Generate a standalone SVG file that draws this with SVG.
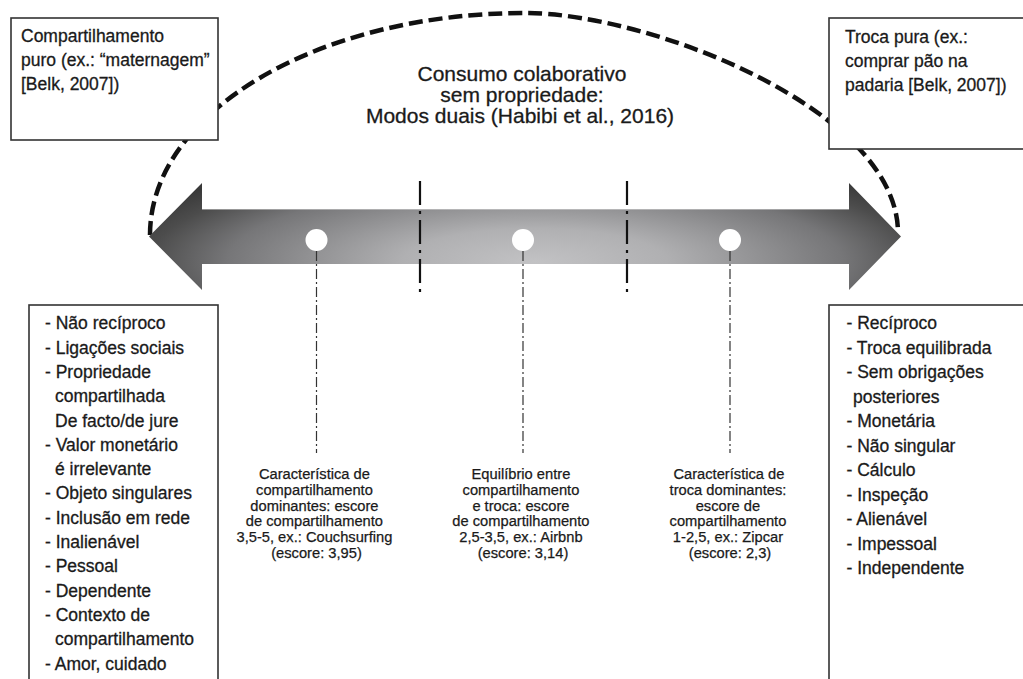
<svg xmlns="http://www.w3.org/2000/svg" width="1023" height="679" viewBox="0 0 1023 679">
<defs>
<radialGradient id="arrowGrad" gradientUnits="userSpaceOnUse" cx="0" cy="0" r="1" gradientTransform="translate(535,262) scale(440,112)">
<stop offset="0" stop-color="#c2c2c4"/>
<stop offset="0.3" stop-color="#b0b0b2"/>
<stop offset="0.5" stop-color="#939395"/>
<stop offset="0.7" stop-color="#767678"/>
<stop offset="0.88" stop-color="#4c4c4c"/>
<stop offset="1" stop-color="#393939"/>
</radialGradient>
<style>
.box{fill:#ffffff;stroke:#333333;stroke-width:1.6}
.t{font-family:"Liberation Sans",Arial,Helvetica,sans-serif;fill:#1a1a1a;stroke:#1a1a1a;stroke-width:0.3}
.big{font-size:17.5px}
.title{font-size:21px}
.small{font-size:14.7px;stroke-width:0.25}
.arc{fill:none;stroke:#111111;stroke-width:4.5;stroke-dasharray:14 6}
.div{stroke:#111111;stroke-width:2.2;stroke-dasharray:24 6 3 6;fill:none}
.lead{stroke:#333333;stroke-width:1.2;stroke-dasharray:10 3 2 3;fill:none}
</style>
</defs>
<rect width="1023" height="679" fill="#ffffff"/>

<g id="scope-arc">
<path class="arc" d="M150,235 C150,112 318,13 525,13 C650,13 898,110 898,233"/>
</g>

<g id="box-top-left">
<rect class="box" x="11" y="18" width="207" height="122"/>
<text class="t big" x="21" y="42">Compartilhamento</text>
<text class="t big" x="21" y="66">puro (ex.: “maternagem”</text>
<text class="t big" x="21" y="90">[Belk, 2007])</text>
</g>

<g id="box-top-right">
<rect class="box" x="829" y="18" width="200" height="131"/>
<text class="t big" x="845" y="42.5">Troca pura (ex.:</text>
<text class="t big" x="845" y="66.5">comprar pão na</text>
<text class="t big" x="845" y="90.5">padaria [Belk, 2007])</text>
</g>

<g id="title">
<text class="t title" text-anchor="middle" x="522" y="81">Consumo colaborativo</text>
<text class="t title" text-anchor="middle" x="522" y="102">sem propriedade:</text>
<text class="t title" text-anchor="middle" x="520" y="123">Modos duais (Habibi et al., 2016)</text>
</g>

<g id="axis-arrow">
<polygon fill="url(#arrowGrad)" points="149,236.5 202,183 202,209 849,209 849,183 901,236.5 849,290 849,264 202,264 202,290"/>
<line x1="202" y1="209.5" x2="849" y2="209.5" stroke="#d8d8d8" stroke-width="1" opacity="0.5"/>
</g>

<g id="connectors">
<line class="div" x1="420" y1="181" x2="420" y2="294"/>
<line class="div" x1="627" y1="181" x2="627" y2="294"/>
<line class="lead" x1="316.5" y1="251" x2="316.5" y2="453"/>
<line class="lead" x1="523" y1="251" x2="523" y2="453"/>
<line class="lead" x1="730" y1="251" x2="730" y2="453"/>
</g>

<g id="point-sharing">
<circle cx="316.5" cy="240" r="11" fill="#ffffff"/>
<text class="t small" text-anchor="middle">
<tspan x="316.5" y="479">Característica de</tspan>
<tspan x="316.5" y="494.8">compartilhamento</tspan>
<tspan x="316.5" y="510.6">dominantes: escore</tspan>
<tspan x="316.5" y="526.4">de compartilhamento</tspan>
<tspan x="316.5" y="542.2">3,5-5, ex.: Couchsurfing</tspan>
<tspan x="316.5" y="558">(escore: 3,95)</tspan>
</text>
</g>

<g id="point-balance">
<circle cx="523" cy="240" r="11" fill="#ffffff"/>
<text class="t small" text-anchor="middle">
<tspan x="523" y="479">Equilíbrio entre</tspan>
<tspan x="523" y="494.8">compartilhamento</tspan>
<tspan x="523" y="510.6">e troca: escore</tspan>
<tspan x="523" y="526.4">de compartilhamento</tspan>
<tspan x="523" y="542.2">2,5-3,5, ex.: Airbnb</tspan>
<tspan x="523" y="558">(escore: 3,14)</tspan>
</text>
</g>

<g id="point-exchange">
<circle cx="730" cy="240" r="11" fill="#ffffff"/>
<text class="t small" text-anchor="middle">
<tspan x="731" y="479">Característica de</tspan>
<tspan x="730" y="494.8">troca dominantes:</tspan>
<tspan x="730" y="510.6">escore de</tspan>
<tspan x="730" y="526.4">compartilhamento</tspan>
<tspan x="730" y="542.2">1-2,5, ex.: Zipcar</tspan>
<tspan x="730" y="558">(escore: 2,3)</tspan>
</text>
</g>

<g id="box-bottom-left">
<rect class="box" x="29" y="305" width="189" height="390"/>
<text class="t big">
<tspan x="45" y="329.3">- Não recíproco</tspan>
<tspan x="45" y="353.6">- Ligações sociais</tspan>
<tspan x="45" y="377.9">- Propriedade</tspan>
<tspan x="55" y="402.2">compartilhada</tspan>
<tspan x="55" y="426.5">De facto/de jure</tspan>
<tspan x="45" y="450.8">- Valor monetário</tspan>
<tspan x="55" y="475.1">é irrelevante</tspan>
<tspan x="45" y="499.4">- Objeto singulares</tspan>
<tspan x="45" y="523.7">- Inclusão em rede</tspan>
<tspan x="45" y="548">- Inalienável</tspan>
<tspan x="45" y="572.3">- Pessoal</tspan>
<tspan x="45" y="596.6">- Dependente</tspan>
<tspan x="45" y="620.9">- Contexto de</tspan>
<tspan x="55" y="645.2">compartilhamento</tspan>
<tspan x="45" y="669.5">- Amor, cuidado</tspan>
</text>
</g>

<g id="box-bottom-right">
<rect class="box" x="829" y="305" width="200" height="390"/>
<text class="t big">
<tspan x="846.5" y="329.3">- Recíproco</tspan>
<tspan x="846.5" y="353.8">- Troca equilibrada</tspan>
<tspan x="846.5" y="378.3">- Sem obrigações</tspan>
<tspan x="853" y="402.8">posteriores</tspan>
<tspan x="846.5" y="427.3">- Monetária</tspan>
<tspan x="846.5" y="451.8">- Não singular</tspan>
<tspan x="846.5" y="476.3">- Cálculo</tspan>
<tspan x="846.5" y="500.8">- Inspeção</tspan>
<tspan x="846.5" y="525.3">- Alienável</tspan>
<tspan x="846.5" y="549.8">- Impessoal</tspan>
<tspan x="846.5" y="574.3">- Independente</tspan>
</text>
</g>
</svg>
